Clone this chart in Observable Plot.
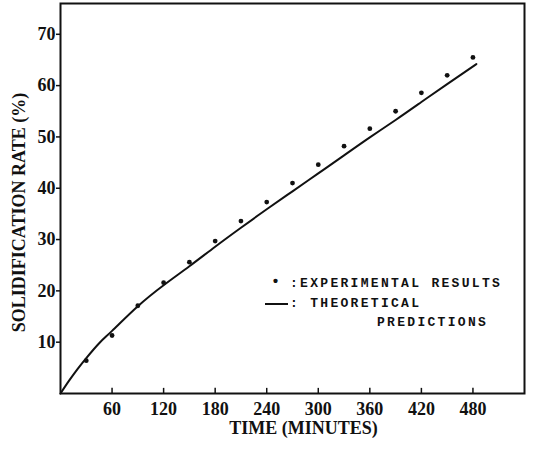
<!DOCTYPE html>
<html>
<head>
<meta charset="utf-8">
<script src="https://cdn.jsdelivr.net/npm/d3@7"></script>
<script src="https://cdn.jsdelivr.net/npm/@observablehq/plot@0.6"></script>
<style>
  html, body { margin: 0; padding: 0; background: #fff; }
  #wrap { position: relative; width: 533px; height: 449px; }
  .leg { position: absolute; font-family: "Liberation Mono", "DejaVu Sans Mono", monospace; font-size: 13px; font-weight: bold; letter-spacing: 2.3px; color: #111; white-space: pre; line-height: 1; }
</style>
</head>
<body>
<div id="wrap"></div>
<script>
// Experimental results
const expTime = [30, 60, 90, 120, 150, 180, 210, 240, 270, 300, 330, 360, 390, 420, 450, 480];
const expRate = [6.4, 11.3, 17.1, 21.6, 25.6, 29.7, 33.6, 37.3, 41.0, 44.6, 48.2, 51.6, 55.0, 58.6, 62.0, 65.5];
// Theoretical predictions
const theoTime = [0, 10, 20, 30, 45, 60, 90, 120, 150, 180, 210, 240, 270, 300, 330, 360, 390, 420, 450, 484];
const theoRate = [0, 2.5, 4.8, 6.9, 9.8, 12.2, 17.0, 21.1, 24.8, 28.6, 32.3, 35.9, 39.4, 42.9, 46.4, 49.9, 53.3, 56.8, 60.3, 64.2];
// Ticks and labels
const xTicks = [60, 120, 180, 240, 300, 360, 420, 480];
const yTicks = [10, 20, 30, 40, 50, 60, 70];
const xTitle = "TIME (MINUTES)";
const yTitle = "SOLIDIFICATION RATE (%)";
const legendLabels = [":EXPERIMENTAL RESULTS", ": THEORETICAL", "PREDICTIONS"];

const expData = expTime.map((t, i) => ({t, v: expRate[i]}));
const theoData = theoTime.map((t, i) => ({t, v: theoRate[i]}));

const serif = "'Liberation Serif', 'DejaVu Serif', serif";

const chart = Plot.plot({
  width: 533,
  height: 449,
  marginLeft: 60,
  marginRight: 9,
  marginTop: 3,
  marginBottom: 56,
  style: {fontFamily: serif, fontSize: "18px", fontWeight: "bold", color: "#111", background: "#fff"},
  x: {domain: [0, 540]},
  y: {domain: [0, 76]},
  marks: [
    Plot.frame({stroke: "#111", strokeWidth: 2}),
    Plot.ruleX(xTicks, {x: d => d, y1: 0, y2: 1, stroke: "#111", strokeWidth: 1.5}),
    Plot.axisX(xTicks, {tickSize: 0, tickPadding: 9, label: null, fontWeight: "bold"}),
    Plot.axisY(yTicks, {tickSize: 4, tickPadding: 1, label: null, fontWeight: "bold", strokeWidth: 1.5}),
    Plot.text([yTitle], {text: d => d, frameAnchor: "left", textAnchor: "middle", rotate: -90, dx: -41, dy: 14, fontSize: 18, fontWeight: "bold", fill: "#111"}),
    Plot.text([xTitle], {text: d => d, frameAnchor: "bottom", dx: 11, dy: 40, fontSize: 18, fontWeight: "bold", fill: "#111"}),
    Plot.line(theoData, {x: "t", y: "v", curve: "natural", stroke: "#111", strokeWidth: 2}),
    Plot.dot(expData, {x: "t", y: "v", r: 2.4, fill: "#111", stroke: "none"})
  ]
});

const wrap = document.getElementById("wrap");
wrap.appendChild(chart);

// Legend overlay
function addLeg(html, left, top) {
  const d = document.createElement("div");
  d.className = "leg";
  d.style.left = left + "px";
  d.style.top = top + "px";
  d.innerHTML = html;
  wrap.appendChild(d);
}
addLeg('<span style="font-size:15px;letter-spacing:0">&#8226;</span>', 271, 275);
addLeg(legendLabels[0], 290, 277);
addLeg('<span style="display:inline-block;width:23px;border-top:2px solid #111;vertical-align:middle"></span>', 265, 297);
addLeg(legendLabels[1], 290, 297);
addLeg(legendLabels[2], 377, 316);
</script>
</body>
</html>
